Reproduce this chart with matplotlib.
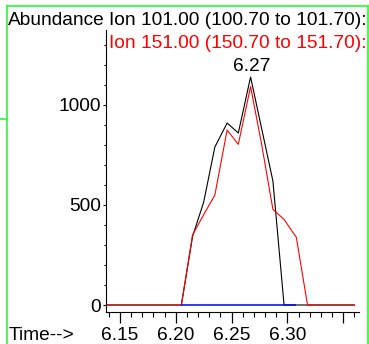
import numpy as np
import matplotlib
matplotlib.use("Agg")
import matplotlib.pyplot as plt
from matplotlib.lines import Line2D

plt.rcParams['font.family'] = ['Liberation Sans', 'DejaVu Sans']

# retention time (min) of the scans
times = [6.138, 6.205, 6.215, 6.225, 6.235, 6.246, 6.256, 6.267,
         6.277, 6.287, 6.297, 6.308, 6.318, 6.360]
# Ion 101.00 abundance
ion101 = [0, 0, 342, 515, 790, 910, 860, 1140, 880, 620, 0, 0, 0, 0]
# Ion 151.00 abundance
ion151 = [0, 0, 350, 452, 550, 875, 803, 1092, 800, 478, 428, 338, 0, 0]
# integration baseline
base_t = [6.205, 6.308]
base_v = [0, 0]

peak_t = 6.267
peak_v = 1145
peak_label = "6.27"

W, H = 369, 344
dpi = 100
fig = plt.figure(figsize=(W / dpi, H / dpi), dpi=dpi)
fig.patch.set_facecolor('white')


def fx(x):
    return x / W


def fy(y):
    return 1 - y / H


ax = fig.add_axes([fx(105.7), fy(312), fx(359.3) - fx(105.7), fy(30) - fy(312)])
ax.plot(times, ion101, color='black', lw=0.8)
ax.plot(times, ion151, color='#ff0000', lw=0.8)
ax.plot(base_t, base_v, color='#0000ff', lw=1.1, solid_capstyle='butt')

ax.set_xlim(6.1372, 6.3644)
ax.set_ylim(-35, 1375)

for s in ['top', 'right']:
    ax.spines[s].set_visible(False)
for s in ['left', 'bottom']:
    ax.spines[s].set_linewidth(0.8)

ax.set_xticks([6.15, 6.20, 6.25, 6.30, 6.35])
ax.set_xticklabels(['6.15', '6.20', '6.25', '6.30', ''])
ax.set_xticks(np.arange(6.14, 6.365, 0.01), minor=True)
ax.set_yticks([0, 500, 1000])
ax.set_yticks(np.arange(0, 1301, 100), minor=True)

fs = 13.8
ax.tick_params(axis='x', which='major', length=8, width=0.9, pad=3, labelsize=fs)
ax.tick_params(axis='x', which='minor', length=3.6, width=0.8)
ax.tick_params(axis='y', which='major', length=2, width=0.8, pad=1.5, labelsize=fs)
ax.tick_params(axis='y', which='minor', length=1.5, width=0.8)

ax.annotate(peak_label, xy=(peak_t, peak_v), xytext=(0.5, 3.5),
            textcoords='offset points', ha='center', va='baseline', fontsize=fs)

fig.text(fx(8.3), fy(25.3), "Abundance", fontsize=fs, va='baseline', ha='left')
fig.text(fx(109), fy(25.3), "Ion 101.00 (100.70 to 101.70):", fontsize=fs,
         va='baseline', ha='left', color='black')
fig.text(fx(109), fy(48.3), "Ion 151.00 (150.70 to 151.70):", fontsize=fs,
         va='baseline', ha='left', color='#ff0000')
fig.text(fx(8.3), fy(340.3), "Time-->", fontsize=fs, va='baseline', ha='left')

# green frame
green = '#33ff33'
frame = [
    ([7.3, 367.5], [6, 6]),
    ([7.3, 7.3], [6, 344]),
    ([367.5, 367.5], [6, 344]),
    ([0, 7.3], [118.7, 118.7]),
]
for xs, ys in frame:
    fig.add_artist(Line2D([fx(v) for v in xs], [fy(v) for v in ys],
                          color=green, lw=1.3, transform=fig.transFigure))

fig.savefig('out.png', dpi=dpi)
